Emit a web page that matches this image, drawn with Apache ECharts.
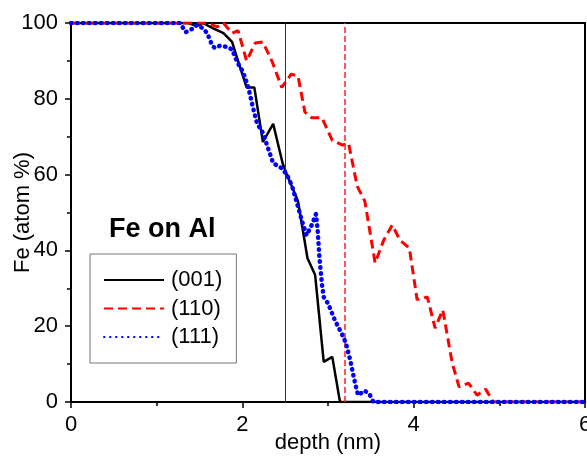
<!DOCTYPE html>
<html>
<head>
<meta charset="utf-8">
<script src="https://cdn.jsdelivr.net/npm/echarts@6/dist/echarts.min.js"></script>
<style>
html,body{margin:0;padding:0;background:#fff;}
#chart{width:587px;height:457px;}
</style>
</head>
<body>
<div id="chart"></div>
<script>
// ---- data ----
const seriesNames = ['(001)', '(110)', '(111)'];

const depth001 = [0, 1.37, 1.47, 1.54, 1.66, 1.78, 1.88, 1.95, 2.05, 2.14, 2.24, 2.36, 2.47, 2.52, 2.65, 2.76, 2.85, 2.95, 3.05, 3.14, 6];
const fe001    = [100, 100, 99.2, 100, 98.6, 97.3, 95, 90, 83, 83, 68.6, 73.4, 63, 60, 53, 38, 33.5, 10.6, 11.9, 0, 0];

const depth110 = [0, 1.59, 1.71, 1.78, 1.88, 1.95, 2.05, 2.15, 2.24, 2.35, 2.46, 2.57, 2.65, 2.73, 2.81, 2.93, 3.05, 3.17, 3.24, 3.34, 3.43, 3.55, 3.65, 3.75, 3.84, 3.95, 4.04, 4.16, 4.25, 4.34, 4.45, 4.53, 4.64, 4.74, 4.84, 4.93, 6];
const fe110    = [100, 100, 99, 100, 97.3, 98, 90, 94.7, 95, 89.7, 83, 86.5, 86, 76.5, 75, 75, 69, 67.8, 68.3, 57, 53, 36.7, 42.7, 46.7, 42.7, 40.6, 27, 27.7, 19.5, 24.3, 10.3, 4, 5, 1.8, 3.4, 0, 0];

const depth111 = [0, 1.27, 1.34, 1.41, 1.47, 1.54, 1.59, 1.65, 1.68, 1.74, 1.82, 1.88, 1.94, 2.01, 2.07, 2.11, 2.17, 2.24, 2.30, 2.36, 2.46, 2.52, 2.58, 2.65, 2.70, 2.75, 2.81, 2.86, 2.88, 2.90, 2.93, 2.95, 3.00, 3.08, 3.16, 3.21, 3.26, 3.30, 3.35, 3.43, 3.49, 3.53, 6];
const fe111    = [100, 100, 97.6, 98.4, 99.5, 98.6, 97.3, 94, 93.4, 94, 93.7, 93, 89.7, 87, 83, 79, 73.6, 71, 67, 63, 61.7, 60, 57, 51.5, 47.5, 44, 46.7, 49.6, 45, 38, 31, 27.7, 26, 21.6, 18, 15.5, 11, 6.6, 1.8, 3, 1.8, 0, 0];

const markerDepths = [2.5, 3.2];   // vertical reference lines
const xTicks = [0, 2, 4, 6];
const yTicks = [0, 20, 40, 60, 80, 100];
const titleText = 'Fe on Al';

function pairs(xs, ys) { return xs.map((x, i) => [x, ys[i]]); }

const FONT = 'Liberation Sans, Arial, sans-serif';
const chart = echarts.init(document.getElementById('chart'), null, {renderer: 'canvas'});

chart.setOption({
  animation: false,
  backgroundColor: '#fff',
  title: {
    text: titleText,
    left: 104, top: 211,
    textStyle: {fontFamily: FONT, fontSize: 27, fontWeight: 'bold', color: '#000'}
  },
  legend: {
    orient: 'vertical',
    left: 90, top: 254,
    padding: [15, 14, 15, 13],
    borderColor: '#777', borderWidth: 1,
    itemWidth: 60, itemHeight: 20, itemGap: 6.5,
    itemStyle: {opacity: 0},
    textStyle: {fontFamily: FONT, fontSize: 22, color: '#000', padding: [0, 0, 0, 2]},
    data: seriesNames
  },
  grid: {left: 71, right: 2, top: 23, bottom: 55, containLabel: false, outerBoundsMode: 'none',
         show: true, borderColor: '#000', borderWidth: 2},
  xAxis: {
    type: 'value', min: xTicks[0], max: xTicks[xTicks.length - 1], interval: 2,
    name: 'depth (nm)', nameLocation: 'middle', nameGap: 30, nameMoveOverlap: false,
    nameTextStyle: {fontFamily: FONT, fontSize: 22, color: '#000'},
    axisLine: {show: true, lineStyle: {color: '#000', width: 2}},
    axisTick: {show: true, length: 6, lineStyle: {color: '#000', width: 1.5}},
    minorTick: {show: true, splitNumber: 2, length: 4, lineStyle: {color: '#000', width: 1.5}},
    splitLine: {show: false},
    axisLabel: {fontFamily: FONT, fontSize: 22, color: '#000', margin: 12, hideOverlap: false}
  },
  yAxis: {
    type: 'value', min: yTicks[0], max: yTicks[yTicks.length - 1], interval: 20,
    name: 'Fe (atom %)', nameLocation: 'middle', nameGap: 37, nameMoveOverlap: false,
    nameTextStyle: {fontFamily: FONT, fontSize: 22, color: '#000'},
    axisLine: {show: true, lineStyle: {color: '#000', width: 2}},
    axisTick: {show: true, length: 6, lineStyle: {color: '#000', width: 1.5}},
    minorTick: {show: true, splitNumber: 2, length: 4, lineStyle: {color: '#000', width: 1.5}},
    splitLine: {show: false},
    axisLabel: {fontFamily: FONT, fontSize: 22, color: '#000', margin: 13}
  },
  series: [
    {
      name: seriesNames[0], type: 'line', symbol: 'none', z: 3,
      data: pairs(depth001, fe001),
      lineStyle: {color: '#000', width: 2.5},
      itemStyle: {color: '#000'},
      markLine: {
        silent: true, symbol: 'none', label: {show: false},
        lineStyle: {color: '#333', width: 1, type: 'solid'},
        data: [{xAxis: markerDepths[0]}]
      }
    },
    {
      name: seriesNames[1], type: 'line', symbol: 'none', z: 4,
      data: pairs(depth110, fe110),
      lineStyle: {color: '#ff0000', width: 3, type: [9, 5]},
      itemStyle: {color: '#ff0000'},
      markLine: {
        silent: true, symbol: 'none', label: {show: false},
        lineStyle: {color: '#ff2020', width: 1.5, type: [6, 3], opacity: 1},
        data: [{xAxis: markerDepths[1], lineStyle: {color: '#ff2020'}}]
      }
    },
    {
      name: seriesNames[2], type: 'line', symbol: 'none', z: 5,
      data: pairs(depth111, fe111),
      lineStyle: {color: '#0000ff', width: 4.5, type: [0.5, 5.5], cap: 'round', join: 'round'},
      itemStyle: {color: '#0000ff'}
    }
  ]
});
</script>
</body>
</html>
